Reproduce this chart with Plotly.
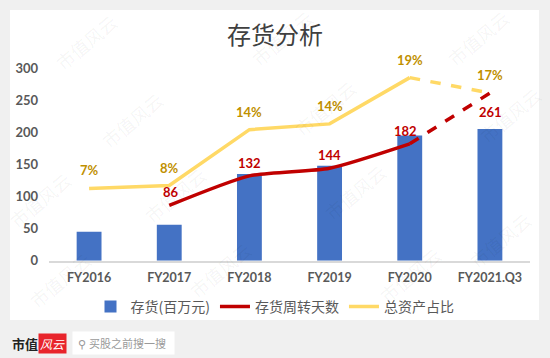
import plotly.graph_objects as go

categories = ["FY2016", "FY2017", "FY2018", "FY2019", "FY2020", "FY2021.Q3"]
inventory = [45, 56, 135, 148, 195, 205]          # 存货(百万元)
turnover_days = [None, 86, 132, 144, 182, 261]    # 存货周转天数
asset_share = [7.5, 7.8, 13.6, 14.2, 19.0, 17.4]  # 总资产占比 (%)
share_labels = ["7%", "8%", "14%", "14%", "19%", "17%"]
y_ticks = [0, 50, 100, 150, 200, 250, 300]

W, H = 550, 358
BLUE = "#4472C4"
RED = "#C00000"
YEL = "#FFD966"
GOLD = "#BF9000"
GRAY = "#595959"
FONT = "Lato, Noto Sans CJK SC, sans-serif"
CJK = "Noto Sans CJK SC, sans-serif"

fig = go.Figure()

fig.add_trace(go.Bar(
    x=categories, y=inventory, name="存货(百万元)",
    marker=dict(color=BLUE, line=dict(width=0)),
    yaxis="y", legendrank=1,
))

# red: solid part then dashed last segment
fig.add_trace(go.Scatter(
    x=categories[1:5], y=turnover_days[1:5], name="存货周转天数",
    mode="lines", line=dict(color=RED, width=3.5, shape="spline", smoothing=0.6),
    yaxis="y", legendgroup="red", legendrank=2, cliponaxis=False,
))
fig.add_trace(go.Scatter(
    x=categories[4:6], y=turnover_days[4:6], name="存货周转天数",
    mode="lines", line=dict(color=RED, width=3.5, dash="dash"),
    yaxis="y", legendgroup="red", showlegend=False, cliponaxis=False,
))

# yellow on secondary axis
fig.add_trace(go.Scatter(
    x=categories[0:5], y=asset_share[0:5], name="总资产占比",
    mode="lines", line=dict(color=YEL, width=3.5),
    yaxis="y2", legendgroup="yel", legendrank=3, cliponaxis=False,
))
fig.add_trace(go.Scatter(
    x=categories[4:6], y=asset_share[4:6], name="总资产占比",
    mode="lines", line=dict(color=YEL, width=3.5, dash="dash"),
    yaxis="y2", legendgroup="yel", showlegend=False, cliponaxis=False,
))

annotations = []
red_shift = [0, 13, 13, 13, 13, -19]
red_xshift = [0, 2, 0, 0, -4, 1]
for c, v, s, xs in zip(categories, turnover_days, red_shift, red_xshift):
    if v is None:
        continue
    annotations.append(dict(
        x=c, y=v, xref="x", yref="y", text=str(v), showarrow=False,
        yanchor="middle", yshift=s, xshift=xs,
        font=dict(family=FONT, size=13, color=RED, weight="bold"),
    ))
for c, v, t in zip(categories, asset_share, share_labels):
    annotations.append(dict(
        x=c, y=v, xref="x", yref="y2", text=t, showarrow=False,
        yanchor="middle", yshift=18,
        font=dict(family=FONT, size=13, color=GOLD, weight="bold"),
    ))

# title
annotations.append(dict(
    x=0.5, y=1 - 34 / H, xref="paper", yref="paper", text="存货分析",
    xanchor="center", yanchor="middle",
    showarrow=False, font=dict(family=CJK, size=24, color="#404040"),
))

# footer
annotations.append(dict(
    x=10 / W, y=1 - 343 / H, xref="paper", yref="paper", xanchor="left",
    yanchor="middle", text="<b>市值</b>", showarrow=False,
    font=dict(family="Noto Sans CJK SC", size=13, color="#222222"),
))
annotations.append(dict(
    x=38 / W, y=1 - 343 / H, xref="paper", yref="paper", xanchor="left",
    yanchor="middle", text="<i>风云</i>", showarrow=False, bgcolor="#E8242B",
    borderpad=1, font=dict(family="Noto Sans CJK SC", size=12, color="white"),
))
annotations.append(dict(
    x=72 / W, y=1 - 343 / H, xref="paper", yref="paper", xanchor="left",
    yanchor="middle", text=" ⚲ 买股之前搜一搜  ", showarrow=False,
    bgcolor="white", borderpad=3,
    font=dict(family="Noto Sans CJK SC", size=11, color="#9a9a9a"),
))

# faint watermarks (kept inside the frame)
wm = [(86, 42), (282, 38), (478, 38), (132, 120), (325, 108), (510, 115),
      (175, 195), (355, 192), (40, 200), (60, 280), (220, 270),
      (410, 275), (500, 240)]
for (px, py) in wm:
    annotations.append(dict(
        x=px / W, y=1 - py / H, xref="paper", yref="paper", text="市值风云",
        xanchor="center", yanchor="middle", showarrow=False, textangle=-40,
        font=dict(family=CJK, size=18, color="rgba(0,0,0,0.05)"),
    ))

fig.update_layout(
    width=W, height=H,
    margin=dict(l=0, r=0, t=0, b=0, autoexpand=False),
    paper_bgcolor="#F0F0F0",
    plot_bgcolor="rgba(0,0,0,0)",
    bargap=0.69,
    font=dict(family=FONT, color=GRAY),
    xaxis=dict(
        domain=[49 / W, 530 / W], automargin=False,
        showgrid=False, showline=True, linecolor="#D9D9D9", linewidth=1.5,
        ticks="", tickfont=dict(family=FONT, size=12.5, color=GRAY, weight="bold"),
        ticklabelstandoff=5,
    ),
    yaxis=dict(
        domain=[1 - 260.7 / H, 1 - 68 / H], automargin=False,
        range=[0, 300], tickvals=y_ticks, showgrid=False, zeroline=False,
        showline=False, ticks="",
        tickfont=dict(family=FONT, size=13, color=GRAY, weight="bold"),
        ticklabelstandoff=10,
    ),
    yaxis2=dict(
        overlaying="y", side="right", range=[0, 20], visible=False,
        showgrid=False, zeroline=False,
    ),
    legend=dict(
        orientation="h", x=0.5, xanchor="center", y=1 - 307 / H, yanchor="middle",
        font=dict(family=CJK, size=14, color=GRAY),
        bgcolor="rgba(0,0,0,0)", traceorder="normal", itemwidth=30,
    ),
    showlegend=True,
    annotations=annotations,
    shapes=[dict(
        type="rect", xref="paper", yref="paper", layer="below",
        x0=10 / W, x1=539 / W, y0=1 - 320 / H, y1=1 - 10 / H,
        fillcolor="white", line=dict(width=0),
    )],
)

fig.write_html("out.html", config={"displayModeBar": False},
               post_script="document.body.style.margin='0px';")
